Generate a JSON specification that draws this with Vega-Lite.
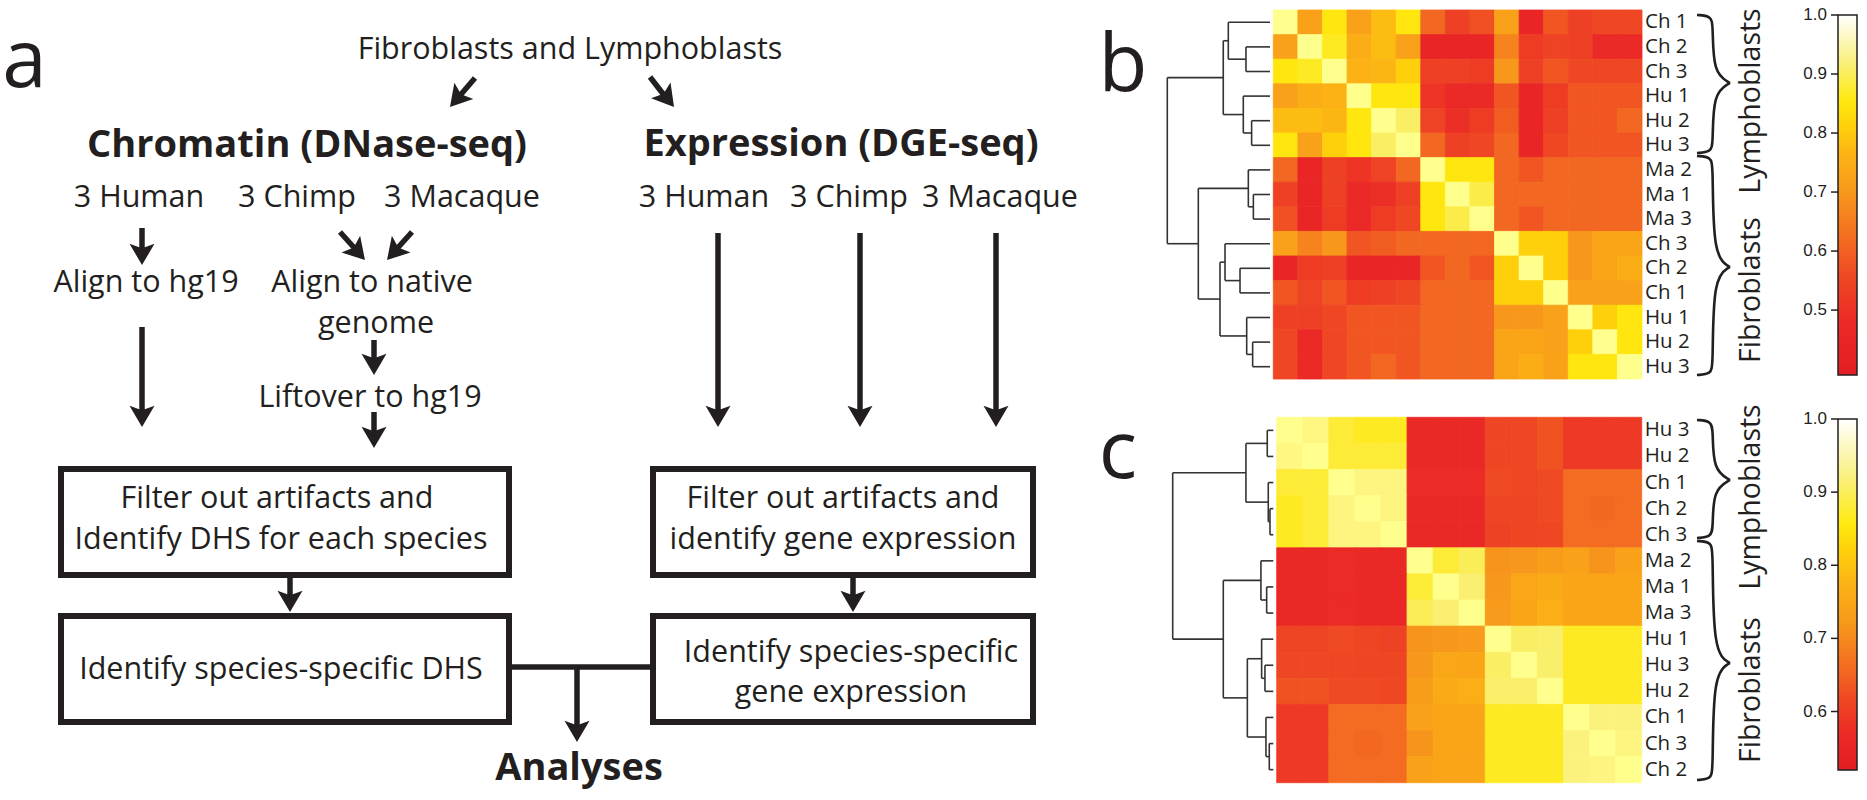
{
"$schema": "https://vega.github.io/schema/vega-lite/v6.json",
"width": 1867, "height": 800, "padding": 0, "autosize": "none",
"background": "white",
"config": {"view": {"stroke": null}},
"datasets": {
"boxes": [{"x":61,"y":469,"x2":509,"y2":575},{"x":61,"y":616,"x2":509,"y2":722},{"x":653,"y":469,"x2":1033,"y2":575},{"x":653,"y":616,"x2":1033,"y2":722}],
"shafts": [{"x":475,"y":78,"x2":457,"y2":99},{"x":650,"y":77,"x2":667,"y2":99},{"x":142,"y":228,"x2":142,"y2":255},{"x":340,"y":232,"x2":358,"y2":252},{"x":412,"y":232,"x2":394,"y2":252},{"x":374,"y":340,"x2":374,"y2":365},{"x":142,"y":327,"x2":142,"y2":417},{"x":374,"y":412,"x2":374,"y2":438},{"x":718,"y":233,"x2":718,"y2":417},{"x":860,"y":233,"x2":860,"y2":417},{"x":996,"y":233,"x2":996,"y2":417},{"x":290,"y":575,"x2":290,"y2":602},{"x":853,"y":575,"x2":853,"y2":602},{"x":577,"y":667,"x2":577,"y2":732},{"x":509,"y":667,"x2":653,"y2":667}],
"heads": [{"x":456.9,"y":99,"a":40.8},{"x":667.4,"y":98.7,"a":321.3},{"x":142,"y":254.4,"a":0},{"x":357.9,"y":252.1,"a":318.2},{"x":394.1,"y":252.1,"a":41.8},{"x":374,"y":364.4,"a":0},{"x":142,"y":416.4,"a":0},{"x":374,"y":437.4,"a":0},{"x":718,"y":416.4,"a":0},{"x":860,"y":416.4,"a":0},{"x":996,"y":416.4,"a":0},{"x":290,"y":601.4,"a":0},{"x":853,"y":601.4,"a":0},{"x":577,"y":731.4,"a":0}],
"texts": [{"x":570,"y":59,"t":"Fibroblasts and Lymphoblasts"},{"x":139,"y":207,"t":"3 Human"},{"x":297,"y":207,"t":"3 Chimp"},{"x":462,"y":207,"t":"3 Macaque"},{"x":704,"y":207,"t":"3 Human"},{"x":849,"y":207,"t":"3 Chimp"},{"x":1000,"y":207,"t":"3 Macaque"},{"x":146,"y":292,"t":"Align to hg19"},{"x":372,"y":292,"t":"Align to native"},{"x":376,"y":333,"t":"genome"},{"x":370,"y":407,"t":"Liftover to hg19"},{"x":277,"y":508,"t":"Filter out artifacts and"},{"x":281,"y":549,"t":"Identify DHS for each species"},{"x":281,"y":679,"t":"Identify species-specific DHS"},{"x":843,"y":508,"t":"Filter out artifacts and"},{"x":843,"y":549,"t":"identify gene expression"},{"x":851,"y":662,"t":"Identify species-specific"},{"x":851,"y":702,"t":"gene expression"}],
"heads2": [{"x":307,"y":157,"t":"Chromatin (DNase-seq)"},{"x":841,"y":156,"t":"Expression (DGE-seq)"},{"x":579,"y":780,"t":"Analyses"}],
"letters": [{"x":24.5,"y":87,"t":"a"},{"x":1123,"y":91,"t":"b"},{"x":1118,"y":478,"t":"c"}],
"side": [{"x":1760,"y":101,"t":"Lymphoblasts"},{"x":1760,"y":290,"t":"Fibroblasts"},{"x":1760,"y":497,"t":"Lymphoblasts"},{"x":1760,"y":690,"t":"Fibroblasts"}],
"braces": [
{"g":"bu1","i":0,"x":1697,"y":15},{"g":"bu1","i":1,"x":1711,"y":16},{"g":"bu1","i":2,"x":1713,"y":25},{"g":"bu1","i":3,"x":1713,"y":73},{"g":"bu1","i":4,"x":1730,"y":83},
{"g":"bu2","i":0,"x":1730,"y":83},{"g":"bu2","i":1,"x":1713,"y":93},{"g":"bu2","i":2,"x":1713,"y":143},{"g":"bu2","i":3,"x":1711,"y":152},{"g":"bu2","i":4,"x":1697,"y":153},
{"g":"bl1","i":0,"x":1697,"y":156},{"g":"bl1","i":1,"x":1711,"y":157},{"g":"bl1","i":2,"x":1713,"y":166},{"g":"bl1","i":3,"x":1713,"y":257},{"g":"bl1","i":4,"x":1730,"y":267},
{"g":"bl2","i":0,"x":1730,"y":267},{"g":"bl2","i":1,"x":1713,"y":277},{"g":"bl2","i":2,"x":1713,"y":365},{"g":"bl2","i":3,"x":1711,"y":374},{"g":"bl2","i":4,"x":1697,"y":375},
{"g":"cu1","i":0,"x":1697,"y":420},{"g":"cu1","i":1,"x":1711,"y":421},{"g":"cu1","i":2,"x":1713,"y":430},{"g":"cu1","i":3,"x":1713,"y":470},{"g":"cu1","i":4,"x":1730,"y":480},
{"g":"cu2","i":0,"x":1730,"y":480},{"g":"cu2","i":1,"x":1713,"y":490},{"g":"cu2","i":2,"x":1713,"y":528},{"g":"cu2","i":3,"x":1711,"y":537},{"g":"cu2","i":4,"x":1697,"y":538},
{"g":"cl1","i":0,"x":1697,"y":541},{"g":"cl1","i":1,"x":1711,"y":542},{"g":"cl1","i":2,"x":1713,"y":551},{"g":"cl1","i":3,"x":1713,"y":653},{"g":"cl1","i":4,"x":1730,"y":663},
{"g":"cl2","i":0,"x":1730,"y":663},{"g":"cl2","i":1,"x":1713,"y":673},{"g":"cl2","i":2,"x":1713,"y":770},{"g":"cl2","i":3,"x":1711,"y":779},{"g":"cl2","i":4,"x":1697,"y":780}],
"hb": [
{"row":0,"lab":"Ch 1","a":1,"b":0.72,"c":0.85,"d":0.72,"e":0.78,"f":0.85,"g":0.61,"h":0.53,"i":0.57,"j":0.72,"k":0.45,"l":0.58,"m":0.53,"n":0.55,"o":0.55},
{"row":1,"lab":"Ch 2","a":0.72,"b":1,"c":0.86,"d":0.75,"e":0.78,"f":0.72,"g":0.45,"h":0.45,"i":0.45,"j":0.66,"k":0.52,"l":0.54,"m":0.53,"n":0.47,"o":0.47},
{"row":2,"lab":"Ch 3","a":0.85,"b":0.86,"c":1,"d":0.76,"e":0.77,"f":0.81,"g":0.53,"h":0.53,"i":0.52,"j":0.70,"k":0.53,"l":0.58,"m":0.55,"n":0.55,"o":0.55},
{"row":3,"lab":"Hu 1","a":0.72,"b":0.75,"c":0.76,"d":1,"e":0.85,"f":0.85,"g":0.50,"h":0.47,"i":0.47,"j":0.58,"k":0.45,"l":0.52,"m":0.58,"n":0.58,"o":0.58},
{"row":4,"lab":"Hu 2","a":0.78,"b":0.78,"c":0.77,"d":0.85,"e":1,"f":0.90,"g":0.54,"h":0.49,"i":0.52,"j":0.59,"k":0.45,"l":0.53,"m":0.58,"n":0.58,"o":0.61},
{"row":5,"lab":"Hu 3","a":0.85,"b":0.72,"c":0.81,"d":0.85,"e":0.90,"f":1,"g":0.61,"h":0.53,"i":0.55,"j":0.61,"k":0.45,"l":0.55,"m":0.58,"n":0.58,"o":0.58},
{"row":6,"lab":"Ma 2","a":0.61,"b":0.45,"c":0.53,"d":0.50,"e":0.54,"f":0.61,"g":1,"h":0.85,"i":0.85,"j":0.61,"k":0.58,"l":0.61,"m":0.61,"n":0.61,"o":0.61},
{"row":7,"lab":"Ma 1","a":0.53,"b":0.45,"c":0.53,"d":0.47,"e":0.49,"f":0.53,"g":0.85,"h":1,"i":0.88,"j":0.61,"k":0.61,"l":0.61,"m":0.61,"n":0.61,"o":0.61},
{"row":8,"lab":"Ma 3","a":0.57,"b":0.45,"c":0.52,"d":0.47,"e":0.52,"f":0.55,"g":0.85,"h":0.88,"i":1,"j":0.61,"k":0.58,"l":0.61,"m":0.61,"n":0.61,"o":0.61},
{"row":9,"lab":"Ch 3","a":0.72,"b":0.66,"c":0.70,"d":0.58,"e":0.59,"f":0.61,"g":0.61,"h":0.61,"i":0.61,"j":1,"k":0.81,"l":0.81,"m":0.70,"n":0.73,"o":0.73},
{"row":10,"lab":"Ch 2","a":0.45,"b":0.52,"c":0.53,"d":0.45,"e":0.45,"f":0.45,"g":0.58,"h":0.61,"i":0.58,"j":0.81,"k":1,"l":0.81,"m":0.70,"n":0.73,"o":0.75},
{"row":11,"lab":"Ch 1","a":0.58,"b":0.54,"c":0.58,"d":0.52,"e":0.53,"f":0.55,"g":0.61,"h":0.61,"i":0.61,"j":0.81,"k":0.81,"l":1,"m":0.72,"n":0.72,"o":0.72},
{"row":12,"lab":"Hu 1","a":0.53,"b":0.53,"c":0.55,"d":0.58,"e":0.58,"f":0.58,"g":0.61,"h":0.61,"i":0.61,"j":0.70,"k":0.70,"l":0.72,"m":1,"n":0.81,"o":0.85},
{"row":13,"lab":"Hu 2","a":0.55,"b":0.47,"c":0.55,"d":0.58,"e":0.58,"f":0.58,"g":0.61,"h":0.61,"i":0.61,"j":0.73,"k":0.73,"l":0.72,"m":0.81,"n":1,"o":0.85},
{"row":14,"lab":"Hu 3","a":0.55,"b":0.47,"c":0.55,"d":0.58,"e":0.61,"f":0.58,"g":0.61,"h":0.61,"i":0.61,"j":0.73,"k":0.75,"l":0.72,"m":0.85,"n":0.85,"o":1}],
"hc": [
{"row":0,"lab":"Hu 3","a":1,"b":0.95,"c":0.87,"d":0.86,"e":0.86,"f":0.56,"g":0.56,"h":0.56,"i":0.61,"j":0.615,"k":0.63,"l":0.59,"m":0.59,"n":0.59},
{"row":1,"lab":"Hu 2","a":0.95,"b":1,"c":0.87,"d":0.87,"e":0.87,"f":0.56,"g":0.56,"h":0.56,"i":0.61,"j":0.615,"k":0.63,"l":0.59,"m":0.59,"n":0.59},
{"row":2,"lab":"Ch 1","a":0.87,"b":0.87,"c":1,"d":0.94,"e":0.94,"f":0.57,"g":0.57,"h":0.57,"i":0.62,"j":0.615,"k":0.62,"l":0.66,"m":0.66,"n":0.66},
{"row":3,"lab":"Ch 2","a":0.86,"b":0.87,"c":0.94,"d":1,"e":0.94,"f":0.56,"g":0.56,"h":0.56,"i":0.61,"j":0.61,"k":0.62,"l":0.66,"m":0.655,"n":0.66},
{"row":4,"lab":"Ch 3","a":0.86,"b":0.87,"c":0.94,"d":0.94,"e":1,"f":0.56,"g":0.56,"h":0.56,"i":0.605,"j":0.61,"k":0.615,"l":0.66,"m":0.66,"n":0.66},
{"row":5,"lab":"Ma 2","a":0.56,"b":0.56,"c":0.57,"d":0.56,"e":0.56,"f":1,"g":0.87,"h":0.89,"i":0.715,"j":0.72,"k":0.73,"l":0.74,"m":0.715,"n":0.74},
{"row":6,"lab":"Ma 1","a":0.56,"b":0.56,"c":0.57,"d":0.56,"e":0.56,"f":0.87,"g":1,"h":0.91,"i":0.72,"j":0.75,"k":0.755,"l":0.745,"m":0.745,"n":0.745},
{"row":7,"lab":"Ma 3","a":0.56,"b":0.56,"c":0.57,"d":0.56,"e":0.56,"f":0.89,"g":0.91,"h":1,"i":0.725,"j":0.745,"k":0.765,"l":0.745,"m":0.745,"n":0.745},
{"row":8,"lab":"Hu 1","a":0.61,"b":0.61,"c":0.62,"d":0.61,"e":0.605,"f":0.715,"g":0.72,"h":0.725,"i":1,"j":0.90,"k":0.905,"l":0.86,"m":0.86,"n":0.86},
{"row":9,"lab":"Hu 3","a":0.615,"b":0.615,"c":0.615,"d":0.61,"e":0.61,"f":0.72,"g":0.75,"h":0.745,"i":0.90,"j":1,"k":0.905,"l":0.86,"m":0.86,"n":0.86},
{"row":10,"lab":"Hu 2","a":0.63,"b":0.63,"c":0.62,"d":0.62,"e":0.615,"f":0.73,"g":0.755,"h":0.765,"i":0.905,"j":0.905,"k":1,"l":0.86,"m":0.86,"n":0.86},
{"row":11,"lab":"Ch 1","a":0.59,"b":0.59,"c":0.66,"d":0.66,"e":0.66,"f":0.74,"g":0.745,"h":0.745,"i":0.86,"j":0.86,"k":0.86,"l":1,"m":0.93,"n":0.93},
{"row":12,"lab":"Ch 3","a":0.59,"b":0.59,"c":0.66,"d":0.655,"e":0.66,"f":0.715,"g":0.745,"h":0.745,"i":0.86,"j":0.86,"k":0.86,"l":0.93,"m":1,"n":0.94},
{"row":13,"lab":"Ch 2","a":0.59,"b":0.59,"c":0.66,"d":0.66,"e":0.66,"f":0.74,"g":0.745,"h":0.745,"i":0.86,"j":0.86,"k":0.86,"l":0.93,"m":0.94,"n":1}],
"db": [
{"h":0.234,"h2":0.234,"p":1.5,"p2":2.5},{"h":0,"h2":0.234,"p":1.5,"p2":1.5},{"h":0,"h2":0.234,"p":2.5,"p2":2.5},
{"h":0.406,"h2":0.406,"p":0.5,"p2":2.0},{"h":0,"h2":0.406,"p":0.5,"p2":0.5},{"h":0.234,"h2":0.406,"p":2.0,"p2":2.0},
{"h":0.179,"h2":0.179,"p":4.5,"p2":5.5},{"h":0,"h2":0.179,"p":4.5,"p2":4.5},{"h":0,"h2":0.179,"p":5.5,"p2":5.5},
{"h":0.26,"h2":0.26,"p":3.5,"p2":5.0},{"h":0,"h2":0.26,"p":3.5,"p2":3.5},{"h":0.179,"h2":0.26,"p":5.0,"p2":5.0},
{"h":0.455,"h2":0.455,"p":1.25,"p2":4.25},{"h":0.406,"h2":0.455,"p":1.25,"p2":1.25},{"h":0.26,"h2":0.455,"p":4.25,"p2":4.25},
{"h":0.162,"h2":0.162,"p":7.5,"p2":8.5},{"h":0,"h2":0.162,"p":7.5,"p2":7.5},{"h":0,"h2":0.162,"p":8.5,"p2":8.5},
{"h":0.211,"h2":0.211,"p":6.5,"p2":8.0},{"h":0,"h2":0.211,"p":6.5,"p2":6.5},{"h":0.162,"h2":0.211,"p":8.0,"p2":8.0},
{"h":0.292,"h2":0.292,"p":10.5,"p2":11.5},{"h":0,"h2":0.292,"p":10.5,"p2":10.5},{"h":0,"h2":0.292,"p":11.5,"p2":11.5},
{"h":0.438,"h2":0.438,"p":9.5,"p2":11.0},{"h":0,"h2":0.438,"p":9.5,"p2":9.5},{"h":0.292,"h2":0.438,"p":11.0,"p2":11.0},
{"h":0.169,"h2":0.169,"p":13.5,"p2":14.5},{"h":0,"h2":0.169,"p":13.5,"p2":13.5},{"h":0,"h2":0.169,"p":14.5,"p2":14.5},
{"h":0.227,"h2":0.227,"p":12.5,"p2":14.0},{"h":0,"h2":0.227,"p":12.5,"p2":12.5},{"h":0.169,"h2":0.227,"p":14.0,"p2":14.0},
{"h":0.487,"h2":0.487,"p":10.25,"p2":13.25},{"h":0.438,"h2":0.487,"p":10.25,"p2":10.25},{"h":0.227,"h2":0.487,"p":13.25,"p2":13.25},
{"h":0.698,"h2":0.698,"p":7.25,"p2":11.75},{"h":0.211,"h2":0.698,"p":7.25,"p2":7.25},{"h":0.487,"h2":0.698,"p":11.75,"p2":11.75},
{"h":1,"h2":1,"p":2.75,"p2":9.5},{"h":0.455,"h2":1,"p":2.75,"p2":2.75},{"h":0.698,"h2":1,"p":9.5,"p2":9.5}],
"dc": [
{"h":0.06,"h2":0.06,"p":0.5,"p2":1.5},{"h":0,"h2":0.06,"p":0.5,"p2":0.5},{"h":0,"h2":0.06,"p":1.5,"p2":1.5},
{"h":0.033,"h2":0.033,"p":3.5,"p2":4.5},{"h":0,"h2":0.033,"p":3.5,"p2":3.5},{"h":0,"h2":0.033,"p":4.5,"p2":4.5},
{"h":0.05,"h2":0.05,"p":2.5,"p2":4.0},{"h":0,"h2":0.05,"p":2.5,"p2":2.5},{"h":0.033,"h2":0.05,"p":4.0,"p2":4.0},
{"h":0.272,"h2":0.272,"p":1.0,"p2":3.25},{"h":0.06,"h2":0.272,"p":1.0,"p2":1.0},{"h":0.05,"h2":0.272,"p":3.25,"p2":3.25},
{"h":0.066,"h2":0.066,"p":6.5,"p2":7.5},{"h":0,"h2":0.066,"p":6.5,"p2":6.5},{"h":0,"h2":0.066,"p":7.5,"p2":7.5},
{"h":0.123,"h2":0.123,"p":5.5,"p2":7.0},{"h":0,"h2":0.123,"p":5.5,"p2":5.5},{"h":0.066,"h2":0.123,"p":7.0,"p2":7.0},
{"h":0.083,"h2":0.083,"p":9.5,"p2":10.5},{"h":0,"h2":0.083,"p":9.5,"p2":9.5},{"h":0,"h2":0.083,"p":10.5,"p2":10.5},
{"h":0.116,"h2":0.116,"p":8.5,"p2":10.0},{"h":0,"h2":0.116,"p":8.5,"p2":8.5},{"h":0.083,"h2":0.116,"p":10.0,"p2":10.0},
{"h":0.04,"h2":0.04,"p":12.5,"p2":13.5},{"h":0,"h2":0.04,"p":12.5,"p2":12.5},{"h":0,"h2":0.04,"p":13.5,"p2":13.5},
{"h":0.073,"h2":0.073,"p":11.5,"p2":13.0},{"h":0,"h2":0.073,"p":11.5,"p2":11.5},{"h":0.04,"h2":0.073,"p":13.0,"p2":13.0},
{"h":0.258,"h2":0.258,"p":9.25,"p2":12.25},{"h":0.116,"h2":0.258,"p":9.25,"p2":9.25},{"h":0.073,"h2":0.258,"p":12.25,"p2":12.25},
{"h":0.497,"h2":0.497,"p":6.25,"p2":10.75},{"h":0.123,"h2":0.497,"p":6.25,"p2":6.25},{"h":0.258,"h2":0.497,"p":10.75,"p2":10.75},
{"h":1,"h2":1,"p":2.125,"p2":8.5},{"h":0.272,"h2":1,"p":2.125,"p2":2.125},{"h":0.497,"h2":1,"p":8.5,"p2":8.5}],
"tb": [{"v":0.5},{"v":0.6},{"v":0.7},{"v":0.8},{"v":0.9},{"v":1.0}],
"tc": [{"v":0.6},{"v":0.7},{"v":0.8},{"v":0.9},{"v":1.0}],
"bar": [{"bar":"scale"}]
},
"layer": [
{
"encoding": {
"x": {"field":"x","type":"quantitative","scale":{"domain":[0,1867],"range":[0,1867],"nice":false,"zero":false},"axis":null},
"y": {"field":"y","type":"quantitative","scale":{"domain":[0,800],"range":[0,800],"nice":false,"zero":false},"axis":null}
},
"layer": [
{"data":{"name":"boxes"},"mark":{"type":"rect","fill":"transparent","stroke":"#231F20","strokeWidth":6},"encoding":{"x2":{"field":"x2"},"y2":{"field":"y2"}}},
{"data":{"name":"shafts"},"mark":{"type":"rule","stroke":"#231F20","strokeWidth":5.5},"encoding":{"x2":{"field":"x2"},"y2":{"field":"y2"}}},
{"data":{"name":"heads"},"mark":{"type":"point","shape":"M0,0.85L-1,-0.85L0,-0.5L1,-0.85Z","size":625,"filled":true,"color":"#231F20","opacity":1,"strokeWidth":0},"encoding":{"angle":{"field":"a","type":"quantitative","scale":null}}},
{"data":{"name":"texts"},"mark":{"type":"text","font":"Open Sans","fontSize":30.5,"align":"center","baseline":"alphabetic","color":"#231F20"},"encoding":{"text":{"field":"t"}}},
{"data":{"name":"heads2"},"mark":{"type":"text","font":"Open Sans","fontSize":38,"fontWeight":"bold","align":"center","baseline":"alphabetic","color":"#231F20"},"encoding":{"text":{"field":"t"}}},
{"data":{"name":"letters"},"mark":{"type":"text","font":"Open Sans","fontSize":80,"align":"center","baseline":"alphabetic","color":"#231F20"},"encoding":{"text":{"field":"t"}}},
{"data":{"name":"side"},"mark":{"type":"text","font":"Open Sans","fontSize":28.5,"angle":270,"align":"center","baseline":"alphabetic","color":"#231F20"},"encoding":{"text":{"field":"t"}}},
{"data":{"name":"braces"},"mark":{"type":"line","interpolate":"basis","stroke":"#231F20","strokeWidth":2.6},"encoding":{"detail":{"field":"g"},"order":{"field":"i"}}}
]
},
{
"data": {"name":"hb"},
"layer": [
{"transform":[{"fold":["a","b","c","d","e","f","g","h","i","j","k","l","m","n","o"],"as":["col","v"]}],
"mark":{"type":"rect","strokeWidth":0.8},
"encoding":{
"x":{"field":"col","type":"ordinal","scale":{"range":[1273.3,1642],"paddingInner":0,"paddingOuter":0},"axis":null},
"y":{"field":"row","type":"ordinal","scale":{"range":[10,379],"paddingInner":0,"paddingOuter":0},"axis":null},
"color":{"field":"v","type":"quantitative","legend":null,"scale":{"type":"linear","domain":[0.39,0.48,0.56,0.62,0.70,0.77,0.81,0.855,0.92,1.0],"range":["#E31E24","#EC2A26","#EF4A23","#F36C21","#F7981C","#FCB614","#FED00B","#FFE90F","#F9F07C","#FFFFFF"]}},
"stroke":{"field":"v","type":"quantitative","legend":null,"scale":{"type":"linear","domain":[0.39,0.48,0.56,0.62,0.70,0.77,0.81,0.855,0.92,1.0],"range":["#E31E24","#EC2A26","#EF4A23","#F36C21","#F7981C","#FCB614","#FED00B","#FFE90F","#F9F07C","#FFFFFF"]}}
}},
{"mark":{"type":"text","font":"Open Sans","fontSize":20.5,"align":"left","baseline":"middle","dx":3,"color":"#231F20"},
"encoding":{
"x":{"datum":"o","type":"ordinal","bandPosition":1,"axis":null},
"y":{"field":"row","type":"ordinal","axis":null},
"text":{"field":"lab"}
}}
]
},
{
"data": {"name":"db"},
"mark": {"type":"rule","stroke":"#333333","strokeWidth":1.6},
"encoding": {
"x":{"field":"h","type":"quantitative","scale":{"domain":[0,1],"range":[1270,1167.3],"nice":false,"zero":false},"axis":null},
"x2":{"field":"h2"},
"y":{"field":"p","type":"quantitative","scale":{"domain":[0,15],"range":[10,379],"nice":false,"zero":false},"axis":null},
"y2":{"field":"p2"}
}
},
{
"layer": [
{"data":{"name":"bar"},"mark":{"type":"rect","stroke":"#231F20","strokeWidth":1.5,"fill":{"gradient":"linear","x1":0,"y1":0,"x2":0,"y2":1,"stops":[{"offset":0,"color":"#FFFFFF"},{"offset":0.131,"color":"#F9F07C"},{"offset":0.238,"color":"#FFE90F"},{"offset":0.311,"color":"#FED00B"},{"offset":0.377,"color":"#FCB614"},{"offset":0.492,"color":"#F7981C"},{"offset":0.623,"color":"#F36C21"},{"offset":0.721,"color":"#EF4A23"},{"offset":0.852,"color":"#EC2A26"},{"offset":1,"color":"#E31E24"}]}},
"encoding":{
"x":{"datum":0,"type":"quantitative","scale":{"domain":[0,1],"range":[1838,1857],"nice":false,"zero":false},"axis":null},
"x2":{"datum":1},
"y":{"datum":1.0,"type":"quantitative","scale":{"domain":[0.39,1.0],"range":[375,15],"nice":false,"zero":false},"axis":null},
"y2":{"datum":0.39}
}},
{"data":{"name":"tb"},"mark":{"type":"rule","stroke":"#231F20","strokeWidth":1.5},
"encoding":{"x":{"datum":-0.37,"type":"quantitative","axis":null},"x2":{"datum":0},"y":{"field":"v","type":"quantitative","axis":null}}},
{"data":{"name":"tb"},"mark":{"type":"text","font":"Liberation Sans","fontSize":17,"align":"right","baseline":"middle","color":"#231F20"},
"encoding":{"x":{"datum":-0.58,"type":"quantitative","axis":null},"y":{"field":"v","type":"quantitative","axis":null},"text":{"field":"v","type":"quantitative","format":".1f"}}}
]
},
{
"data": {"name":"hc"},
"layer": [
{"transform":[{"fold":["a","b","c","d","e","f","g","h","i","j","k","l","m","n"],"as":["col","v"]}],
"mark":{"type":"rect","strokeWidth":0.8},
"encoding":{
"x":{"field":"col","type":"ordinal","scale":{"range":[1276.7,1641.7],"paddingInner":0,"paddingOuter":0},"axis":null},
"y":{"field":"row","type":"ordinal","scale":{"range":[417.3,782.7],"paddingInner":0,"paddingOuter":0},"axis":null},
"color":{"field":"v","type":"quantitative","legend":null,"scale":{"type":"linear","domain":[0.52,0.57,0.62,0.66,0.72,0.78,0.82,0.855,0.92,1.0],"range":["#E31E24","#EC2A26","#EF4A23","#F36C21","#F7981C","#FCB614","#FED00B","#FFE90F","#F9F07C","#FFFFFF"]}},
"stroke":{"field":"v","type":"quantitative","legend":null,"scale":{"type":"linear","domain":[0.52,0.57,0.62,0.66,0.72,0.78,0.82,0.855,0.92,1.0],"range":["#E31E24","#EC2A26","#EF4A23","#F36C21","#F7981C","#FCB614","#FED00B","#FFE90F","#F9F07C","#FFFFFF"]}}
}},
{"mark":{"type":"text","font":"Open Sans","fontSize":20.5,"align":"left","baseline":"middle","dx":3,"color":"#231F20"},
"encoding":{
"x":{"datum":"n","type":"ordinal","bandPosition":1,"axis":null},
"y":{"field":"row","type":"ordinal","axis":null},
"text":{"field":"lab"}
}}
]
},
{
"data": {"name":"dc"},
"mark": {"type":"rule","stroke":"#333333","strokeWidth":1.6},
"encoding": {
"x":{"field":"h","type":"quantitative","scale":{"domain":[0,1],"range":[1273.3,1172.7],"nice":false,"zero":false},"axis":null},
"x2":{"field":"h2"},
"y":{"field":"p","type":"quantitative","scale":{"domain":[0,14],"range":[417.3,782.7],"nice":false,"zero":false},"axis":null},
"y2":{"field":"p2"}
}
},
{
"layer": [
{"data":{"name":"bar"},"mark":{"type":"rect","stroke":"#231F20","strokeWidth":1.5,"fill":{"gradient":"linear","x1":0,"y1":0,"x2":0,"y2":1,"stops":[{"offset":0,"color":"#FFFFFF"},{"offset":0.167,"color":"#F9F07C"},{"offset":0.302,"color":"#FFE90F"},{"offset":0.375,"color":"#FED00B"},{"offset":0.458,"color":"#FCB614"},{"offset":0.583,"color":"#F7981C"},{"offset":0.708,"color":"#F36C21"},{"offset":0.792,"color":"#EF4A23"},{"offset":0.896,"color":"#EC2A26"},{"offset":1,"color":"#E31E24"}]}},
"encoding":{
"x":{"datum":0,"type":"quantitative","scale":{"domain":[0,1],"range":[1838,1857],"nice":false,"zero":false},"axis":null},
"x2":{"datum":1},
"y":{"datum":1.0,"type":"quantitative","scale":{"domain":[0.52,1.0],"range":[770,419],"nice":false,"zero":false},"axis":null},
"y2":{"datum":0.52}
}},
{"data":{"name":"tc"},"mark":{"type":"rule","stroke":"#231F20","strokeWidth":1.5},
"encoding":{"x":{"datum":-0.37,"type":"quantitative","axis":null},"x2":{"datum":0},"y":{"field":"v","type":"quantitative","axis":null}}},
{"data":{"name":"tc"},"mark":{"type":"text","font":"Liberation Sans","fontSize":17,"align":"right","baseline":"middle","color":"#231F20"},
"encoding":{"x":{"datum":-0.58,"type":"quantitative","axis":null},"y":{"field":"v","type":"quantitative","axis":null},"text":{"field":"v","type":"quantitative","format":".1f"}}}
]
}
],
"resolve": {"scale": {"x":"independent","y":"independent","color":"independent","stroke":"independent"}}
}
